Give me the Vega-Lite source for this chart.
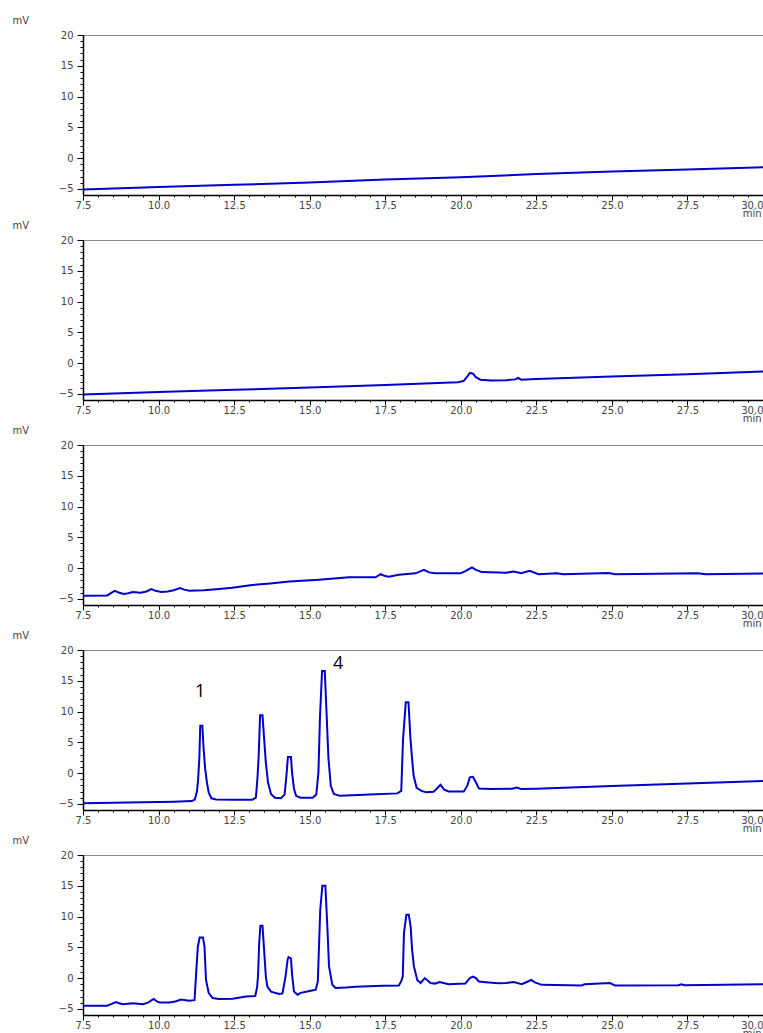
{
  "$schema": "https://vega.github.io/schema/vega-lite/v6.json",
  "padding": {"left": 12, "top": 15, "right": 0, "bottom": 0},
  "background": "white",
  "datasets": {
    "p1": [
      {"t": 7.5, "mV": -5.1}, {"t": 10, "mV": -4.7}, {"t": 12.5, "mV": -4.35}, {"t": 15, "mV": -3.95},
      {"t": 17.5, "mV": -3.5}, {"t": 20, "mV": -3.1}, {"t": 22.5, "mV": -2.6}, {"t": 25, "mV": -2.2},
      {"t": 27.5, "mV": -1.85}, {"t": 30, "mV": -1.5}
    ],
    "p2": [
      {"t": 7.5, "mV": -5.1}, {"t": 10, "mV": -4.7}, {"t": 12.5, "mV": -4.35}, {"t": 15, "mV": -3.95},
      {"t": 17.5, "mV": -3.55}, {"t": 19.9, "mV": -3.1}, {"t": 20.1, "mV": -2.9}, {"t": 20.2, "mV": -2.3},
      {"t": 20.3, "mV": -1.6}, {"t": 20.4, "mV": -1.7}, {"t": 20.5, "mV": -2.3}, {"t": 20.65, "mV": -2.7},
      {"t": 21.0, "mV": -2.85}, {"t": 21.5, "mV": -2.8}, {"t": 21.8, "mV": -2.65}, {"t": 21.9, "mV": -2.4},
      {"t": 22.0, "mV": -2.7}, {"t": 22.5, "mV": -2.6}, {"t": 25, "mV": -2.2}, {"t": 27.5, "mV": -1.8},
      {"t": 30, "mV": -1.35}
    ],
    "p3": [
      {"t": 7.5, "mV": -4.5}, {"t": 8.3, "mV": -4.45}, {"t": 8.45, "mV": -4.0}, {"t": 8.55, "mV": -3.7},
      {"t": 8.7, "mV": -4.0}, {"t": 8.85, "mV": -4.2}, {"t": 9.0, "mV": -4.1}, {"t": 9.15, "mV": -3.9},
      {"t": 9.4, "mV": -4.0}, {"t": 9.6, "mV": -3.8}, {"t": 9.76, "mV": -3.4}, {"t": 9.9, "mV": -3.7},
      {"t": 10.09, "mV": -3.9}, {"t": 10.3, "mV": -3.8}, {"t": 10.5, "mV": -3.6}, {"t": 10.71, "mV": -3.25},
      {"t": 10.85, "mV": -3.5}, {"t": 11.02, "mV": -3.7}, {"t": 11.5, "mV": -3.6}, {"t": 12.0, "mV": -3.4},
      {"t": 12.44, "mV": -3.2}, {"t": 13.1, "mV": -2.75}, {"t": 13.7, "mV": -2.5}, {"t": 14.32, "mV": -2.2},
      {"t": 15.31, "mV": -1.9}, {"t": 16.3, "mV": -1.5}, {"t": 17.18, "mV": -1.5}, {"t": 17.35, "mV": -1.0},
      {"t": 17.5, "mV": -1.3}, {"t": 17.62, "mV": -1.4}, {"t": 17.95, "mV": -1.1}, {"t": 18.5, "mV": -0.85},
      {"t": 18.78, "mV": -0.3}, {"t": 18.95, "mV": -0.7}, {"t": 19.16, "mV": -0.85}, {"t": 19.99, "mV": -0.85},
      {"t": 20.15, "mV": -0.5}, {"t": 20.37, "mV": 0.1}, {"t": 20.5, "mV": -0.3}, {"t": 20.7, "mV": -0.65},
      {"t": 21.25, "mV": -0.7}, {"t": 21.5, "mV": -0.75}, {"t": 21.75, "mV": -0.55}, {"t": 22.0, "mV": -0.85},
      {"t": 22.28, "mV": -0.45}, {"t": 22.57, "mV": -1.0}, {"t": 23.17, "mV": -0.85}, {"t": 23.4, "mV": -1.0},
      {"t": 24.9, "mV": -0.8}, {"t": 25.1, "mV": -1.0}, {"t": 27.85, "mV": -0.85}, {"t": 28.1, "mV": -1.0},
      {"t": 30, "mV": -0.9}
    ],
    "p4": [
      {"t": 7.5, "mV": -4.9}, {"t": 9, "mV": -4.8}, {"t": 10.5, "mV": -4.65}, {"t": 11.1, "mV": -4.55},
      {"t": 11.2, "mV": -4.3}, {"t": 11.27, "mV": -3.0}, {"t": 11.31, "mV": -1.0}, {"t": 11.35, "mV": 2.5},
      {"t": 11.38, "mV": 7.7}, {"t": 11.45, "mV": 7.7}, {"t": 11.49, "mV": 4.0}, {"t": 11.54, "mV": 0.8},
      {"t": 11.6, "mV": -1.5}, {"t": 11.66, "mV": -3.2}, {"t": 11.75, "mV": -4.1}, {"t": 11.9, "mV": -4.3},
      {"t": 12.5, "mV": -4.35}, {"t": 13.1, "mV": -4.35}, {"t": 13.22, "mV": -4.0}, {"t": 13.27, "mV": -1.0},
      {"t": 13.31, "mV": 2.5}, {"t": 13.36, "mV": 9.4}, {"t": 13.44, "mV": 9.4}, {"t": 13.49, "mV": 5.8},
      {"t": 13.55, "mV": 1.7}, {"t": 13.62, "mV": -1.5}, {"t": 13.72, "mV": -3.4}, {"t": 13.85, "mV": -4.0},
      {"t": 14.05, "mV": -4.1}, {"t": 14.17, "mV": -3.5}, {"t": 14.23, "mV": -0.5}, {"t": 14.28, "mV": 2.6},
      {"t": 14.38, "mV": 2.6}, {"t": 14.42, "mV": 0.0}, {"t": 14.48, "mV": -2.5}, {"t": 14.55, "mV": -3.7},
      {"t": 14.7, "mV": -4.0}, {"t": 15.1, "mV": -4.0}, {"t": 15.22, "mV": -3.5}, {"t": 15.29, "mV": 0.1},
      {"t": 15.34, "mV": 9.0}, {"t": 15.41, "mV": 16.6}, {"t": 15.5, "mV": 16.6}, {"t": 15.56, "mV": 9.6},
      {"t": 15.62, "mV": 2.5}, {"t": 15.7, "mV": -2.1}, {"t": 15.8, "mV": -3.4}, {"t": 16.0, "mV": -3.7},
      {"t": 17.0, "mV": -3.5}, {"t": 17.9, "mV": -3.3}, {"t": 18.03, "mV": -2.9}, {"t": 18.09, "mV": 5.5},
      {"t": 18.18, "mV": 11.5}, {"t": 18.27, "mV": 11.5}, {"t": 18.33, "mV": 6.0}, {"t": 18.38, "mV": 2.8},
      {"t": 18.44, "mV": -0.45}, {"t": 18.54, "mV": -2.4}, {"t": 18.7, "mV": -2.9}, {"t": 18.85, "mV": -3.1},
      {"t": 19.1, "mV": -3.05}, {"t": 19.25, "mV": -2.3}, {"t": 19.33, "mV": -1.9}, {"t": 19.45, "mV": -2.7},
      {"t": 19.6, "mV": -3.0}, {"t": 20.1, "mV": -3.0}, {"t": 20.22, "mV": -2.0}, {"t": 20.3, "mV": -0.7},
      {"t": 20.4, "mV": -0.6}, {"t": 20.5, "mV": -1.5}, {"t": 20.6, "mV": -2.5}, {"t": 21.0, "mV": -2.6},
      {"t": 21.7, "mV": -2.55}, {"t": 21.86, "mV": -2.35}, {"t": 22.0, "mV": -2.6}, {"t": 22.5, "mV": -2.55},
      {"t": 25, "mV": -2.1}, {"t": 27.5, "mV": -1.7}, {"t": 30, "mV": -1.3}
    ],
    "p4labels": [
      {"label": "1", "t": 11.38, "mV": 13.2},
      {"label": "4", "t": 15.94, "mV": 17.7}
    ],
    "p5": [
      {"t": 7.5, "mV": -4.5}, {"t": 8.3, "mV": -4.5}, {"t": 8.45, "mV": -4.2}, {"t": 8.6, "mV": -3.9},
      {"t": 8.7, "mV": -4.1}, {"t": 8.82, "mV": -4.25}, {"t": 9.15, "mV": -4.1}, {"t": 9.48, "mV": -4.25},
      {"t": 9.65, "mV": -4.0}, {"t": 9.84, "mV": -3.4}, {"t": 9.95, "mV": -3.8}, {"t": 10.03, "mV": -3.95},
      {"t": 10.36, "mV": -3.95}, {"t": 10.55, "mV": -3.8}, {"t": 10.75, "mV": -3.5}, {"t": 10.9, "mV": -3.6},
      {"t": 11.02, "mV": -3.7}, {"t": 11.19, "mV": -3.6}, {"t": 11.25, "mV": 1.3}, {"t": 11.3, "mV": 5.1},
      {"t": 11.36, "mV": 6.6}, {"t": 11.47, "mV": 6.6}, {"t": 11.52, "mV": 5.1}, {"t": 11.57, "mV": -0.3},
      {"t": 11.66, "mV": -2.45}, {"t": 11.79, "mV": -3.25}, {"t": 12.0, "mV": -3.4}, {"t": 12.45, "mV": -3.35},
      {"t": 12.9, "mV": -3.0}, {"t": 13.2, "mV": -2.9}, {"t": 13.26, "mV": -1.5}, {"t": 13.29, "mV": 0.25},
      {"t": 13.33, "mV": 5.7}, {"t": 13.37, "mV": 8.5}, {"t": 13.44, "mV": 8.5}, {"t": 13.5, "mV": 4.0},
      {"t": 13.55, "mV": 0.25}, {"t": 13.6, "mV": -1.4}, {"t": 13.72, "mV": -2.2}, {"t": 13.99, "mV": -2.6},
      {"t": 14.1, "mV": -2.5}, {"t": 14.2, "mV": 0.2}, {"t": 14.27, "mV": 3.0}, {"t": 14.3, "mV": 3.4},
      {"t": 14.38, "mV": 3.2}, {"t": 14.42, "mV": 0.5}, {"t": 14.48, "mV": -2.2}, {"t": 14.6, "mV": -2.7},
      {"t": 14.7, "mV": -2.4}, {"t": 15.0, "mV": -2.1}, {"t": 15.2, "mV": -1.9}, {"t": 15.27, "mV": -0.55},
      {"t": 15.35, "mV": 11.1}, {"t": 15.42, "mV": 15.0}, {"t": 15.52, "mV": 15.0}, {"t": 15.59, "mV": 7.8},
      {"t": 15.64, "mV": 1.9}, {"t": 15.75, "mV": -1.1}, {"t": 15.86, "mV": -1.6}, {"t": 16.2, "mV": -1.55},
      {"t": 16.52, "mV": -1.4}, {"t": 17.4, "mV": -1.25}, {"t": 17.95, "mV": -1.2}, {"t": 18.03, "mV": -0.5},
      {"t": 18.08, "mV": 0.25}, {"t": 18.12, "mV": 7.3}, {"t": 18.2, "mV": 10.3}, {"t": 18.28, "mV": 10.3},
      {"t": 18.34, "mV": 8.4}, {"t": 18.39, "mV": 4.6}, {"t": 18.45, "mV": 1.9}, {"t": 18.56, "mV": -0.3},
      {"t": 18.67, "mV": -0.8}, {"t": 18.81, "mV": 0.0}, {"t": 19.0, "mV": -0.8}, {"t": 19.15, "mV": -0.9},
      {"t": 19.3, "mV": -0.65}, {"t": 19.6, "mV": -1.0}, {"t": 20.15, "mV": -0.9}, {"t": 20.3, "mV": 0.0},
      {"t": 20.4, "mV": 0.25}, {"t": 20.5, "mV": 0.0}, {"t": 20.6, "mV": -0.55}, {"t": 20.92, "mV": -0.7},
      {"t": 21.25, "mV": -0.85}, {"t": 21.5, "mV": -0.8}, {"t": 21.75, "mV": -0.65}, {"t": 22.02, "mV": -1.0},
      {"t": 22.2, "mV": -0.6}, {"t": 22.33, "mV": -0.3}, {"t": 22.45, "mV": -0.7}, {"t": 22.68, "mV": -1.1},
      {"t": 24.0, "mV": -1.2}, {"t": 24.1, "mV": -1.0}, {"t": 24.94, "mV": -0.8}, {"t": 25.1, "mV": -1.2},
      {"t": 27.2, "mV": -1.15}, {"t": 27.3, "mV": -1.0}, {"t": 27.4, "mV": -1.15}, {"t": 30, "mV": -1.0}
    ]
  },
  "vconcat": [
    {
      "width": 680, "height": 160,
      "data": {"name": "p1"},
      "layer": [
        {
          "mark": {"type": "line", "color": "#0000cc", "strokeWidth": 2, "clip": true},
          "encoding": {
            "x": {"field": "t", "type": "quantitative", "scale": {"domain": [7.5, 30], "nice": false, "zero": false},
              "axis": {"orient": "bottom", "title": "min", "titleAlign": "right", "titleAnchor": "end", "titleX": 678, "titleY": 18, "titleBaseline": "middle",
                "values": [7.5,8,8.5,9,9.5,10,10.5,11,11.5,12,12.5,13,13.5,14,14.5,15,15.5,16,16.5,17,17.5,18,18.5,19,19.5,20,20.5,21,21.5,22,22.5,23,23.5,24,24.5,25,25.5,26,26.5,27,27.5,28,28.5,29,29.5,30],
                "labelExpr": "datum.value % 2.5 === 0 ? format(datum.value, '.1f') : ''",
                "labelAlign": {"condition": {"test": "datum.value >= 30", "value": "right"}, "value": "center"},
                "tickSize": {"condition": {"test": "datum.value % 2.5 === 0", "value": 5}, "value": 2},
                "labelFlush": false, "labelOverlap": false, "labelPadding": 0}},
            "y": {"field": "mV", "type": "quantitative", "scale": {"domain": [-6, 20], "nice": false, "zero": false},
              "axis": {"title": "mV", "titleAngle": 0, "titleX": -71, "titleY": -15, "titleAlign": "left", "titleBaseline": "middle",
                "values": [-5,-4,-3,-2,-1,0,1,2,3,4,5,6,7,8,9,10,11,12,13,14,15,16,17,18,19,20],
                "labelExpr": "datum.value % 5 === 0 ? format(datum.value, 'd') : ''",
                "tickSize": {"condition": {"test": "datum.value % 5 === 0", "value": 6}, "value": 3},
                "labelOverlap": false, "labelFlush": false, "labelPadding": 4}}
          }
        },
        {
          "mark": {"type": "line", "opacity": 0},
          "encoding": {
            "x": {"field": "t", "type": "quantitative", "axis": {"orient": "top", "labels": false, "ticks": false, "title": null, "domainColor": "#8a8a8a", "domainWidth": 1}}
          }
        }
      ],
      "resolve": {"axis": {"x": "independent"}}
    },
    {
      "width": 680, "height": 160,
      "data": {"name": "p2"},
      "layer": [
        {
          "mark": {"type": "line", "color": "#0000cc", "strokeWidth": 2, "clip": true},
          "encoding": {
            "x": {"field": "t", "type": "quantitative", "scale": {"domain": [7.5, 30], "nice": false, "zero": false},
              "axis": {"orient": "bottom", "title": "min", "titleAlign": "right", "titleAnchor": "end", "titleX": 678, "titleY": 18, "titleBaseline": "middle",
                "values": [7.5,8,8.5,9,9.5,10,10.5,11,11.5,12,12.5,13,13.5,14,14.5,15,15.5,16,16.5,17,17.5,18,18.5,19,19.5,20,20.5,21,21.5,22,22.5,23,23.5,24,24.5,25,25.5,26,26.5,27,27.5,28,28.5,29,29.5,30],
                "labelExpr": "datum.value % 2.5 === 0 ? format(datum.value, '.1f') : ''",
                "labelAlign": {"condition": {"test": "datum.value >= 30", "value": "right"}, "value": "center"},
                "tickSize": {"condition": {"test": "datum.value % 2.5 === 0", "value": 5}, "value": 2},
                "labelFlush": false, "labelOverlap": false, "labelPadding": 0}},
            "y": {"field": "mV", "type": "quantitative", "scale": {"domain": [-6, 20], "nice": false, "zero": false},
              "axis": {"title": "mV", "titleAngle": 0, "titleX": -71, "titleY": -15, "titleAlign": "left", "titleBaseline": "middle",
                "values": [-5,-4,-3,-2,-1,0,1,2,3,4,5,6,7,8,9,10,11,12,13,14,15,16,17,18,19,20],
                "labelExpr": "datum.value % 5 === 0 ? format(datum.value, 'd') : ''",
                "tickSize": {"condition": {"test": "datum.value % 5 === 0", "value": 6}, "value": 3},
                "labelOverlap": false, "labelFlush": false, "labelPadding": 4}}
          }
        },
        {
          "mark": {"type": "line", "opacity": 0},
          "encoding": {
            "x": {"field": "t", "type": "quantitative", "axis": {"orient": "top", "labels": false, "ticks": false, "title": null, "domainColor": "#8a8a8a", "domainWidth": 1}}
          }
        }
      ],
      "resolve": {"axis": {"x": "independent"}}
    },
    {
      "width": 680, "height": 160,
      "data": {"name": "p3"},
      "layer": [
        {
          "mark": {"type": "line", "color": "#0000cc", "strokeWidth": 2, "clip": true},
          "encoding": {
            "x": {"field": "t", "type": "quantitative", "scale": {"domain": [7.5, 30], "nice": false, "zero": false},
              "axis": {"orient": "bottom", "title": "min", "titleAlign": "right", "titleAnchor": "end", "titleX": 678, "titleY": 18, "titleBaseline": "middle",
                "values": [7.5,8,8.5,9,9.5,10,10.5,11,11.5,12,12.5,13,13.5,14,14.5,15,15.5,16,16.5,17,17.5,18,18.5,19,19.5,20,20.5,21,21.5,22,22.5,23,23.5,24,24.5,25,25.5,26,26.5,27,27.5,28,28.5,29,29.5,30],
                "labelExpr": "datum.value % 2.5 === 0 ? format(datum.value, '.1f') : ''",
                "labelAlign": {"condition": {"test": "datum.value >= 30", "value": "right"}, "value": "center"},
                "tickSize": {"condition": {"test": "datum.value % 2.5 === 0", "value": 5}, "value": 2},
                "labelFlush": false, "labelOverlap": false, "labelPadding": 0}},
            "y": {"field": "mV", "type": "quantitative", "scale": {"domain": [-6, 20], "nice": false, "zero": false},
              "axis": {"title": "mV", "titleAngle": 0, "titleX": -71, "titleY": -15, "titleAlign": "left", "titleBaseline": "middle",
                "values": [-5,-4,-3,-2,-1,0,1,2,3,4,5,6,7,8,9,10,11,12,13,14,15,16,17,18,19,20],
                "labelExpr": "datum.value % 5 === 0 ? format(datum.value, 'd') : ''",
                "tickSize": {"condition": {"test": "datum.value % 5 === 0", "value": 6}, "value": 3},
                "labelOverlap": false, "labelFlush": false, "labelPadding": 4}}
          }
        },
        {
          "mark": {"type": "line", "opacity": 0},
          "encoding": {
            "x": {"field": "t", "type": "quantitative", "axis": {"orient": "top", "labels": false, "ticks": false, "title": null, "domainColor": "#8a8a8a", "domainWidth": 1}}
          }
        }
      ],
      "resolve": {"axis": {"x": "independent"}}
    },
    {
      "width": 680, "height": 160,
      "layer": [
        {
          "data": {"name": "p4"},
          "mark": {"type": "line", "color": "#0000cc", "strokeWidth": 2, "clip": true},
          "encoding": {
            "x": {"field": "t", "type": "quantitative", "scale": {"domain": [7.5, 30], "nice": false, "zero": false},
              "axis": {"orient": "bottom", "title": "min", "titleAlign": "right", "titleAnchor": "end", "titleX": 678, "titleY": 18, "titleBaseline": "middle",
                "values": [7.5,8,8.5,9,9.5,10,10.5,11,11.5,12,12.5,13,13.5,14,14.5,15,15.5,16,16.5,17,17.5,18,18.5,19,19.5,20,20.5,21,21.5,22,22.5,23,23.5,24,24.5,25,25.5,26,26.5,27,27.5,28,28.5,29,29.5,30],
                "labelExpr": "datum.value % 2.5 === 0 ? format(datum.value, '.1f') : ''",
                "labelAlign": {"condition": {"test": "datum.value >= 30", "value": "right"}, "value": "center"},
                "tickSize": {"condition": {"test": "datum.value % 2.5 === 0", "value": 5}, "value": 2},
                "labelFlush": false, "labelOverlap": false, "labelPadding": 0}},
            "y": {"field": "mV", "type": "quantitative", "scale": {"domain": [-6, 20], "nice": false, "zero": false},
              "axis": {"title": "mV", "titleAngle": 0, "titleX": -71, "titleY": -15, "titleAlign": "left", "titleBaseline": "middle",
                "values": [-5,-4,-3,-2,-1,0,1,2,3,4,5,6,7,8,9,10,11,12,13,14,15,16,17,18,19,20],
                "labelExpr": "datum.value % 5 === 0 ? format(datum.value, 'd') : ''",
                "tickSize": {"condition": {"test": "datum.value % 5 === 0", "value": 6}, "value": 3},
                "labelOverlap": false, "labelFlush": false, "labelPadding": 4}}
          }
        },
        {
          "data": {"name": "p4"},
          "mark": {"type": "line", "opacity": 0},
          "encoding": {
            "x": {"field": "t", "type": "quantitative", "axis": {"orient": "top", "labels": false, "ticks": false, "title": null, "domainColor": "#8a8a8a", "domainWidth": 1}}
          }
        },
        {
          "data": {"name": "p4labels"},
          "mark": {"type": "text", "font": "Open Sans", "fontSize": 18, "color": "#000", "baseline": "middle", "align": "center"},
          "encoding": {
            "x": {"field": "t", "type": "quantitative", "axis": null},
            "y": {"field": "mV", "type": "quantitative", "axis": null},
            "text": {"field": "label"}
          }
        }
      ],
      "resolve": {"axis": {"x": "independent", "y": "independent"}}
    },
    {
      "width": 680, "height": 160,
      "data": {"name": "p5"},
      "layer": [
        {
          "mark": {"type": "line", "color": "#0000cc", "strokeWidth": 2, "clip": true},
          "encoding": {
            "x": {"field": "t", "type": "quantitative", "scale": {"domain": [7.5, 30], "nice": false, "zero": false},
              "axis": {"orient": "bottom", "title": "min", "titleAlign": "right", "titleAnchor": "end", "titleX": 678, "titleY": 18, "titleBaseline": "middle",
                "values": [7.5,8,8.5,9,9.5,10,10.5,11,11.5,12,12.5,13,13.5,14,14.5,15,15.5,16,16.5,17,17.5,18,18.5,19,19.5,20,20.5,21,21.5,22,22.5,23,23.5,24,24.5,25,25.5,26,26.5,27,27.5,28,28.5,29,29.5,30],
                "labelExpr": "datum.value % 2.5 === 0 ? format(datum.value, '.1f') : ''",
                "labelAlign": {"condition": {"test": "datum.value >= 30", "value": "right"}, "value": "center"},
                "tickSize": {"condition": {"test": "datum.value % 2.5 === 0", "value": 5}, "value": 2},
                "labelFlush": false, "labelOverlap": false, "labelPadding": 0}},
            "y": {"field": "mV", "type": "quantitative", "scale": {"domain": [-6, 20], "nice": false, "zero": false},
              "axis": {"title": "mV", "titleAngle": 0, "titleX": -71, "titleY": -15, "titleAlign": "left", "titleBaseline": "middle",
                "values": [-5,-4,-3,-2,-1,0,1,2,3,4,5,6,7,8,9,10,11,12,13,14,15,16,17,18,19,20],
                "labelExpr": "datum.value % 5 === 0 ? format(datum.value, 'd') : ''",
                "tickSize": {"condition": {"test": "datum.value % 5 === 0", "value": 6}, "value": 3},
                "labelOverlap": false, "labelFlush": false, "labelPadding": 4}}
          }
        },
        {
          "mark": {"type": "line", "opacity": 0},
          "encoding": {
            "x": {"field": "t", "type": "quantitative", "axis": {"orient": "top", "labels": false, "ticks": false, "title": null, "domainColor": "#8a8a8a", "domainWidth": 1}}
          }
        }
      ],
      "resolve": {"axis": {"x": "independent"}}
    }
  ],
  "spacing": 45,
  "bounds": "flush",
  "config": {
    "view": {"stroke": null},
    "axis": {
      "grid": false,
      "domainColor": "#000000",
      "domainWidth": 1.5,
      "tickColor": "#000000",
      "tickWidth": 1,
      "labelFont": "DejaVu Sans",
      "labelFontSize": 10,
      "labelColor": "#444444",
      "titleFont": "DejaVu Sans",
      "titleFontSize": 10,
      "titleFontWeight": "normal",
      "titleColor": "#444444"
    }
  }
}
